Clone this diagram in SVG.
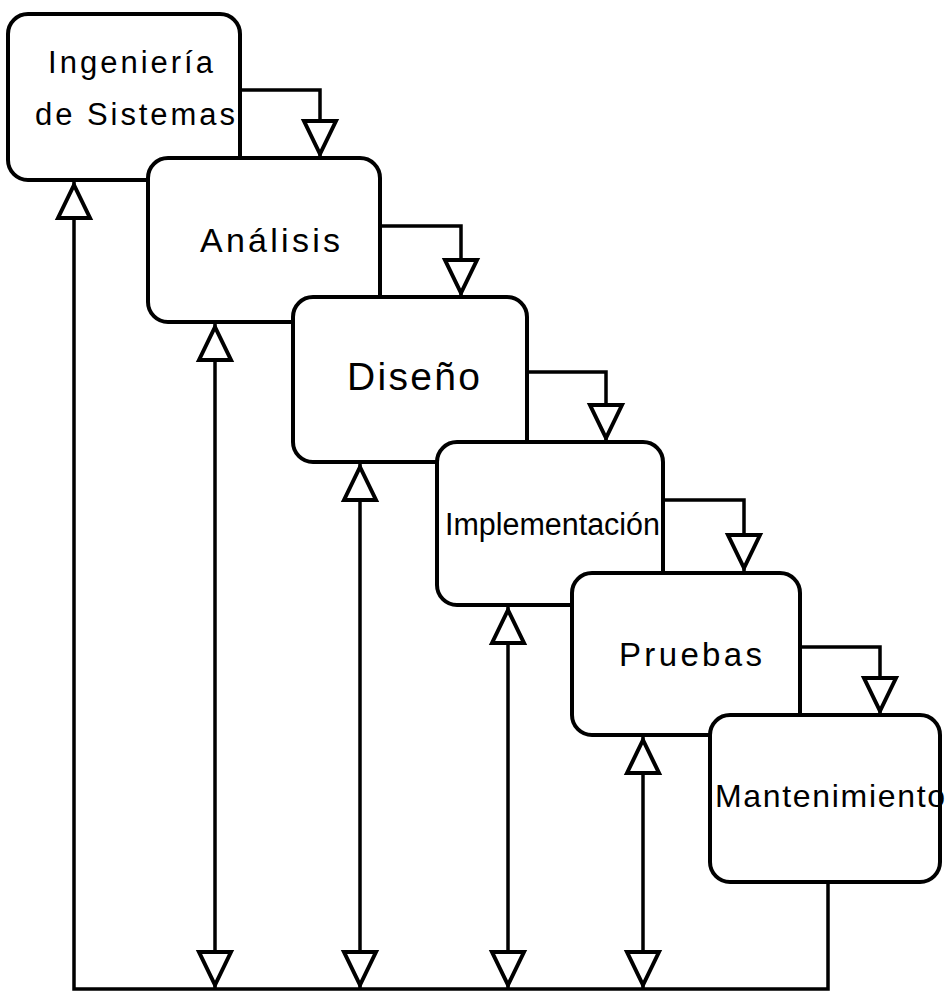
<svg xmlns="http://www.w3.org/2000/svg" width="949" height="992" viewBox="0 0 949 992">
<style>
.box{fill:#fff;stroke:#000;stroke-width:4}
.lbl{font-family:"Liberation Sans",Arial,sans-serif;fill:#000}
.con{fill:none;stroke:#000;stroke-width:3.5}
</style>
<defs>
<marker id="tri" viewBox="-4 -20 44 40" refX="36" refY="0" markerWidth="44" markerHeight="40" markerUnits="userSpaceOnUse" orient="auto-start-reverse" overflow="visible">
<path d="M0,-16 L33,0 L0,16 Z" fill="#fff" stroke="#000" stroke-width="4"/>
</marker>
</defs>
<rect width="949" height="992" fill="#fff"/>
<g id="n1"><rect class="box" x="8" y="14" width="232" height="166" rx="20"/>
<text class="lbl" x="48" y="73" font-size="31" textLength="165" lengthAdjust="spacing">Ingeniería</text>
<text class="lbl" x="35" y="125" font-size="31" textLength="200" lengthAdjust="spacing">de Sistemas</text></g>
<g id="n2"><rect class="box" x="148" y="158" width="232" height="164" rx="20"/>
<text class="lbl" x="200" y="252" font-size="34" textLength="140" lengthAdjust="spacing">Análisis</text></g>
<g id="n3"><rect class="box" x="293" y="297" width="234" height="165" rx="20"/>
<text class="lbl" x="347" y="390" font-size="39" textLength="133" lengthAdjust="spacing">Diseño</text></g>
<g id="n4"><rect class="box" x="437" y="442" width="226" height="163" rx="20"/>
<text class="lbl" x="445" y="535" font-size="31" textLength="215" lengthAdjust="spacingAndGlyphs">Implementación</text></g>
<g id="n5"><rect class="box" x="572" y="573" width="228" height="162" rx="20"/>
<text class="lbl" x="619" y="666" font-size="33" textLength="143" lengthAdjust="spacing">Pruebas</text></g>
<g id="n6"><rect class="box" x="710" y="715" width="230" height="167" rx="20"/>
<text class="lbl" x="715" y="807" font-size="32" textLength="230" lengthAdjust="spacing">Mantenimiento</text></g>
<g id="connectors">
<path class="con" d="M240,90 H320 V157" marker-end="url(#tri)"/>
<path class="con" d="M380,226 H461 V296" marker-end="url(#tri)"/>
<path class="con" d="M527,372 H606 V441" marker-end="url(#tri)"/>
<path class="con" d="M663,500 H744 V571" marker-end="url(#tri)"/>
<path class="con" d="M800,647 H880 V714" marker-end="url(#tri)"/>
<path class="con" d="M215,324 V988" marker-start="url(#tri)" marker-end="url(#tri)"/>
<path class="con" d="M360,464 V988" marker-start="url(#tri)" marker-end="url(#tri)"/>
<path class="con" d="M508,607 V988" marker-start="url(#tri)" marker-end="url(#tri)"/>
<path class="con" d="M643,737 V988" marker-start="url(#tri)" marker-end="url(#tri)"/>
<path class="con" d="M828,882 V989 H74 V182" marker-end="url(#tri)"/>
</g>
</svg>
